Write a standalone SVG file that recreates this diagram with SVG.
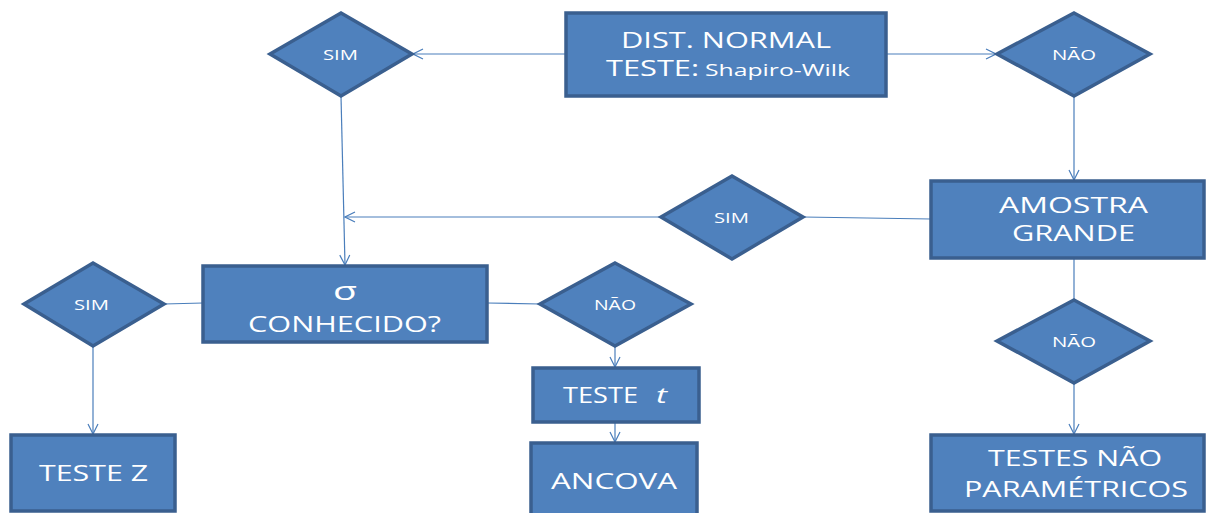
<svg xmlns="http://www.w3.org/2000/svg" width="1206" height="513" viewBox="0 0 1206 513">
  <style>
    .box { fill: #4F81BD; stroke: #3A5F8F; stroke-width: 3.5; }
    .dia { fill: #4F81BD; stroke: #3A5F8F; stroke-width: 3.5; stroke-linejoin: miter; }
    .link { stroke: #4A7EBB; stroke-width: 1.2; fill: none; }
    .t { fill: #FFFFFF; font-family: "Open Sans", "Liberation Sans", sans-serif; }
    .big { font-size: 22px; }
    .small { font-size: 14px; }
  </style>
  <defs>
    <marker id="arr" viewBox="0 0 12 12" refX="11" refY="6" markerWidth="12" markerHeight="12" markerUnits="userSpaceOnUse" orient="auto">
      <path d="M1,1 L11,6 L1,11" fill="none" stroke="#4A7EBB" stroke-width="1.2"/>
    </marker>
  </defs>

  <g id="connectors">
    <line class="link" x1="566" y1="54" x2="413" y2="54" marker-end="url(#arr)"/>
    <line class="link" x1="886" y1="54" x2="996" y2="54" marker-end="url(#arr)"/>
    <line class="link" x1="1074" y1="96" x2="1074" y2="180" marker-end="url(#arr)"/>
    <line class="link" x1="931" y1="219" x2="803" y2="217"/>
    <line class="link" x1="661" y1="217" x2="345" y2="217" marker-end="url(#arr)"/>
    <line class="link" x1="341" y1="96" x2="345" y2="265" marker-end="url(#arr)"/>
    <line class="link" x1="203" y1="303" x2="164" y2="304"/>
    <line class="link" x1="487" y1="303" x2="540" y2="304"/>
    <line class="link" x1="93" y1="346" x2="93" y2="434" marker-end="url(#arr)"/>
    <line class="link" x1="615" y1="346" x2="615" y2="367" marker-end="url(#arr)"/>
    <line class="link" x1="615" y1="422" x2="615" y2="442" marker-end="url(#arr)"/>
    <line class="link" x1="1074" y1="258" x2="1074" y2="300"/>
    <line class="link" x1="1074" y1="383" x2="1074" y2="434" marker-end="url(#arr)"/>
  </g>

  <g id="dist-normal">
    <rect class="box" x="566" y="13" width="320" height="83"/>
    <text class="t big" x="621" y="48" textLength="210" lengthAdjust="spacingAndGlyphs">DIST. NORMAL</text>
    <text class="t big" x="606" y="76" textLength="93" lengthAdjust="spacingAndGlyphs">TESTE:</text>
    <text class="t" x="705" y="76" font-size="16px" textLength="145" lengthAdjust="spacingAndGlyphs">Shapiro-Wilk</text>
  </g>

  <g id="sim-top">
    <polygon class="dia" points="341,13 412,54 341,96 270,54"/>
    <text class="t small" x="323" y="60" textLength="35" lengthAdjust="spacingAndGlyphs">SIM</text>
  </g>

  <g id="nao-top">
    <polygon class="dia" points="1074,13 1150,54 1074,96 997,54"/>
    <text class="t small" x="1052" y="60" textLength="44" lengthAdjust="spacingAndGlyphs">NÃO</text>
  </g>

  <g id="amostra-grande">
    <rect class="box" x="931" y="181" width="273" height="77"/>
    <text class="t big" x="999" y="213" textLength="149" lengthAdjust="spacingAndGlyphs">AMOSTRA</text>
    <text class="t big" x="1012" y="241" textLength="123" lengthAdjust="spacingAndGlyphs">GRANDE</text>
  </g>

  <g id="sim-middle">
    <polygon class="dia" points="732,176 803,217 732,259 661,217"/>
    <text class="t small" x="714" y="223" textLength="35" lengthAdjust="spacingAndGlyphs">SIM</text>
  </g>

  <g id="sigma-conhecido">
    <rect class="box" x="203" y="266" width="284" height="76"/>
    <text class="t" x="333" y="300" font-size="26px" textLength="24" lengthAdjust="spacingAndGlyphs">σ</text>
    <text class="t big" x="248" y="332" textLength="193" lengthAdjust="spacingAndGlyphs">CONHECIDO?</text>
  </g>

  <g id="sim-left">
    <polygon class="dia" points="93,263 164,304 93,346 24,304"/>
    <text class="t small" x="74" y="310" textLength="35" lengthAdjust="spacingAndGlyphs">SIM</text>
  </g>

  <g id="nao-middle">
    <polygon class="dia" points="615,263 691,304 615,346 540,304"/>
    <text class="t small" x="594" y="310" textLength="42" lengthAdjust="spacingAndGlyphs">NÃO</text>
  </g>

  <g id="teste-z">
    <rect class="box" x="11" y="435" width="164" height="76"/>
    <text class="t big" x="39" y="481" textLength="109" lengthAdjust="spacingAndGlyphs">TESTE Z</text>
  </g>

  <g id="teste-t">
    <rect class="box" x="533" y="368" width="166" height="54"/>
    <text class="t big" x="563" y="403" textLength="75" lengthAdjust="spacingAndGlyphs">TESTE</text>
    <text class="t big" x="656" y="403" font-style="italic" textLength="11" lengthAdjust="spacingAndGlyphs">t</text>
  </g>

  <g id="ancova">
    <rect class="box" x="531" y="443" width="166" height="76"/>
    <text class="t big" x="551" y="489" textLength="126" lengthAdjust="spacingAndGlyphs">ANCOVA</text>
  </g>

  <g id="nao-lower">
    <polygon class="dia" points="1074,300 1150,341 1074,383 997,341"/>
    <text class="t small" x="1052" y="347" textLength="44" lengthAdjust="spacingAndGlyphs">NÃO</text>
  </g>

  <g id="testes-nao-parametricos">
    <rect class="box" x="931" y="435" width="273" height="76"/>
    <text class="t big" x="988" y="466" textLength="174" lengthAdjust="spacingAndGlyphs">TESTES NÃO</text>
    <text class="t big" x="964" y="497" textLength="224" lengthAdjust="spacingAndGlyphs">PARAMÉTRICOS</text>
  </g>
</svg>
